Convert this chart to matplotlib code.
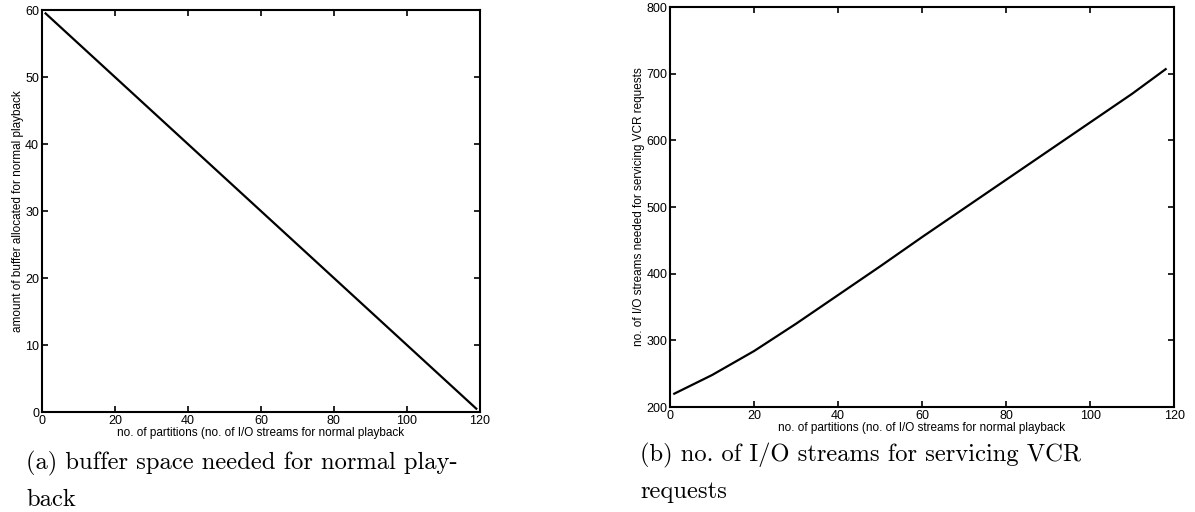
import matplotlib.pyplot as plt

# buffer space (a) and VCR I/O streams (b) vs. number of partitions
part_a = [1, 119]
buffer_a = [59.5, 0.5]

part_b = [1, 10, 20, 30, 40, 50, 60, 70, 80, 90, 100, 110, 118]
streams_b = [220, 248, 284, 325, 368, 411, 455, 498, 541, 584, 627, 670, 707]

xlabel = "no. of partitions (no. of I/O streams for normal playback"

plt.rcParams['font.family'] = ['Liberation Sans', 'DejaVu Sans']

fig = plt.figure(figsize=(11.95, 5.12), dpi=100)
ax1 = fig.add_axes([0.0351, 0.1953, 0.3665, 0.785])
ax2 = fig.add_axes([0.5607, 0.205, 0.4218, 0.781])


def style(ax):
    ax.tick_params(direction='in', top=True, right=True, length=4, width=1.2,
                   labelsize=9, pad=2)
    for s in ax.spines.values():
        s.set_linewidth(1.5)
    ax.set_xlim(0, 120)
    ax.set_xticks(range(0, 121, 20))
    ax.set_xlabel(xlabel, fontsize=8.5, labelpad=0)


ax1.plot(part_a, buffer_a, color='black', lw=1.6)
style(ax1)
ax1.set_ylim(0, 60)
ax1.set_yticks(range(0, 61, 10))
ax1.set_ylabel("amount of buffer allocated for normal playback", fontsize=8.5, labelpad=1)

ax2.plot(part_b, streams_b, color='black', lw=1.6)
style(ax2)
ax2.set_ylim(200, 800)
ax2.set_yticks(range(200, 801, 100))
ax2.set_ylabel("no. of I/O streams needed for servicing VCR requests", fontsize=8.5, labelpad=1)

cap = dict(fontsize=17.7, family='cmr10', ha='left', va='center', linespacing=1.7)
fig.text(26 / 1195, 1 - 481 / 512, "(a) buffer space needed for normal play-\nback", **cap)
fig.text(640 / 1195, 1 - 473 / 512, "(b) no. of I/O streams for servicing VCR\nrequests", **cap)

fig.savefig("out.png", dpi=100, facecolor='white')
